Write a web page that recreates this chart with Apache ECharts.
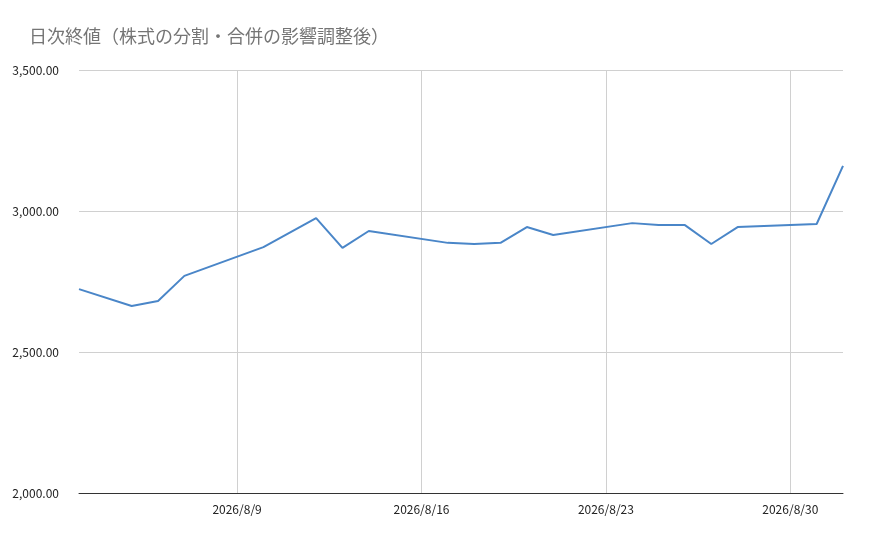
<!DOCTYPE html>
<html><head><meta charset="utf-8">
<script src="https://cdn.jsdelivr.net/npm/echarts@6/dist/echarts.min.js"></script>
<style>html,body{margin:0;padding:0;background:#fff}#c{width:870px;height:539px}</style>
</head><body><div id="c"></div>
<script>
const categories = [];
for (let d = 3; d <= 31; d++) categories.push('2026/8/' + d);
categories.push('2026/9/1');
const pointDates = ['2026/8/3','2026/8/5','2026/8/6','2026/8/7','2026/8/10','2026/8/12','2026/8/13','2026/8/14','2026/8/17','2026/8/18','2026/8/19','2026/8/20','2026/8/21','2026/8/24','2026/8/25','2026/8/26','2026/8/27','2026/8/28','2026/8/31','2026/9/1'];
const closeValues = [2723,2663,2681,2770,2872,2975,2869,2929,2887,2883,2887,2943,2915,2957,2950,2950,2883,2943,2954,3160];
const tickLabels = ['2026/8/9','2026/8/16','2026/8/23','2026/8/30'];
const titleText = '日次終値（株式の分割・合併の影響調整後）';

const seriesData = categories.map(c => { const i = pointDates.indexOf(c); return i >= 0 ? closeValues[i] : null; });
const showTick = (i) => tickLabels.includes(categories[i]);
const chart = echarts.init(document.getElementById('c'));
chart.setOption({
  animation: false,
  title: { text: titleText, left: 24, top: 22, textStyle: { fontFamily: 'Noto Sans CJK JP', fontSize: 18, fontWeight: 'normal', color: '#757575' } },
  grid: { left: 79, right: 27, top: 70, bottom: 46 },
  xAxis: {
    type: 'category', data: categories, boundaryGap: false,
    axisLine: { show: true, lineStyle: { color: '#333' } }, axisTick: { show: false },
    axisLabel: { interval: (i) => showTick(i), color: '#222', fontSize: 12, fontFamily: 'Noto Sans CJK JP', margin: 10 },
    splitLine: { show: true, interval: (i) => showTick(i), lineStyle: { color: '#d0d0d0' } }
  },
  yAxis: {
    type: 'value', min: 2000, max: 3500, interval: 500,
    axisLine: { show: false }, axisTick: { show: false },
    axisLabel: { color: '#222', fontSize: 12, fontFamily: 'Noto Sans CJK JP', margin: 20,
      formatter: v => v.toLocaleString('en-US', { minimumFractionDigits: 2, maximumFractionDigits: 2 }) },
    splitLine: { lineStyle: { color: '#d0d0d0' } }
  },
  series: [{ type: 'line', data: seriesData, connectNulls: true, showSymbol: false, lineStyle: { color: '#4a86c8', width: 2 }, itemStyle: { color: '#4a86c8' } }]
});
</script></body></html>
